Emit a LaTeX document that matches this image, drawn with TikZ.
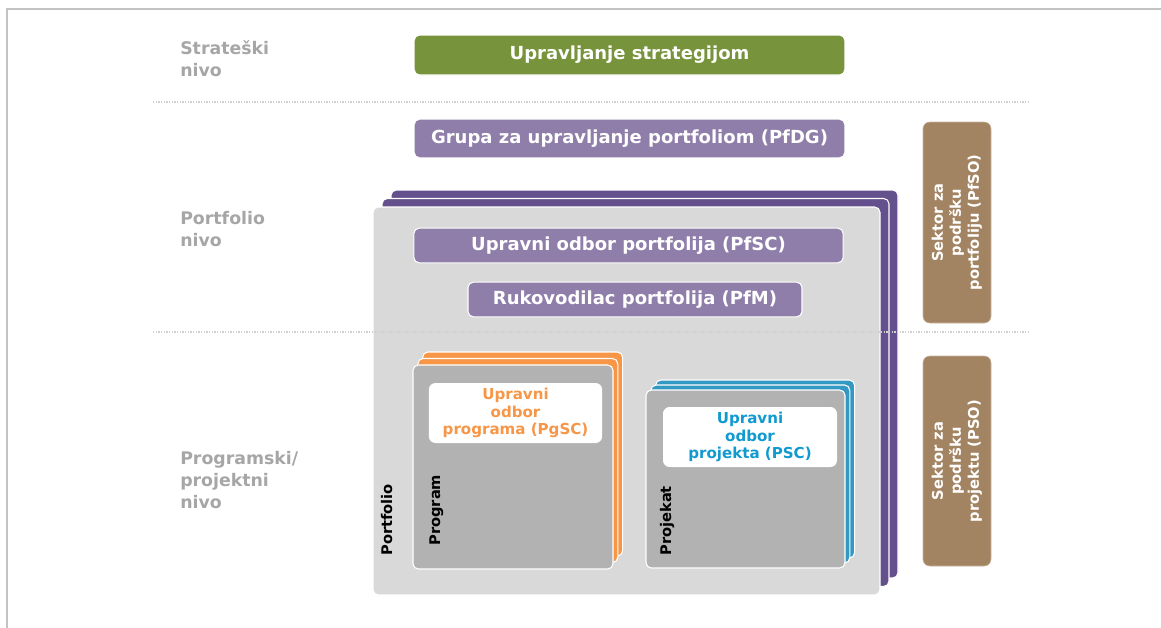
\documentclass[tikz,border=0pt]{standalone}
\usepackage{fontspec}
\setmainfont{DejaVu Sans}
\usetikzlibrary{positioning}
\definecolor{zelena}{HTML}{77933C}
\definecolor{svijetloljub}{HTML}{8F7EA9}
\definecolor{tamnoljub}{HTML}{64508C}
\definecolor{svijetlosiva}{HTML}{D9D9D9}
\definecolor{tamnosiva}{HTML}{B2B2B2}
\definecolor{narandzasta}{HTML}{F79646}
\definecolor{plava}{HTML}{3399C2}
\definecolor{plavatekst}{HTML}{109AD0}
\definecolor{smeda}{HTML}{A38462}
\definecolor{sivotekst}{HTML}{A6A6A6}
\definecolor{okvir}{HTML}{C3C3C3}

\begin{document}
\begin{tikzpicture}[x=0.75pt,y=-0.75pt]
 \tikzset{nivo node/.style={anchor=west, align=left, inner sep=0pt,
 		text=sivotekst, font=\fontsize{13}{16.5}\selectfont\bfseries}, }
 \tikzset{glavni node/.style={rectangle, draw=white, line width=0.8pt,
 		text=white, text centered, rounded corners=4pt,
 		font=\fontsize{13.5}{16}\selectfont\bfseries}, }
 \tikzset{odbor node/.style={rectangle, fill=white, align=center,
 		rounded corners=5pt, inner sep=1pt,
 		font=\fontsize{11.3}{13}\selectfont\bfseries}, }
 \tikzset{sektor node/.style={rectangle, draw=smeda!60, fill=smeda,
 		rotate=90, align=center, text=white, rounded corners=5pt,
 		minimum height=51pt, font=\fontsize{11}{13.5}\selectfont\bfseries}, }
 \tikzset{oznaka node/.style={rotate=90, anchor=base west, inner sep=0pt,
 		font=\fontsize{11}{13}\selectfont\bfseries}, }
 \tikzset{sloj/.style={draw=white, line width=0.8pt, rounded corners=4pt},}
 \tikzset{razdjelnik/.style={draw=black!18, densely dotted, line width=1pt},}
 \useasboundingbox (0,0) rectangle (1161,628);
 \draw[okvir, line width=1.5pt] (7,628) -- (7,9) -- (1161,9);
 %% 
 \node[nivo node] (strateski) at (180,59) {Strateški\\nivo};
 \node[nivo node] (portfolionivo) at (180,229) {Portfolio\\nivo};
 \node[nivo node] (programnivo) at (180,480) {Programski/\\projektni\\nivo};
 %% 
 \node[glavni node, fill=zelena, minimum width=323pt, minimum height=30pt]
 	(strategija) at (629.5,55) {Upravljanje strategijom};
 \node[glavni node, fill=svijetloljub, minimum width=323pt, minimum height=29pt]
 	(pfdg) at (629.5,138.5) {Grupa za upravljanje portfoliom (PfDG)};
 %% 
 \foreach \k/\boja in {2/tamnoljub,1/tamnoljub,0/svijetlosiva}
 \draw[sloj, fill=\boja, shift={({9*\k},{-8.5*\k})}] (373,207) rectangle (880,595);
 \draw[razdjelnik] (153,102) -- (1030,102);
 \draw[razdjelnik] (153,332) -- (1030,332);
 \node[glavni node, fill=svijetloljub, minimum width=322pt, minimum height=26pt]
 	(pfsc) at (628.5,245.5) {Upravni odbor portfolija (PfSC)};
 \node[glavni node, fill=svijetloljub, minimum width=250.5pt, minimum height=26pt]
 	(pfm) at (635,299.5) {Rukovodilac portfolija (PfM)};
 %% 
 \foreach \k/\boja in {2/narandzasta,1/narandzasta,0/tamnosiva}
 \draw[sloj, fill=\boja, shift={({4.8*\k},{-6.5*\k})}] (413,365) rectangle (613,569);
 \foreach \k/\boja in {2/plava,1/plava,0/tamnosiva}
 \draw[sloj, fill=\boja, shift={({4.8*\k},{-5*\k})}] (646,390) rectangle (845,568);
 \node[odbor node, text=narandzasta, minimum width=130pt, minimum height=45pt]
 	(pgsc) at (515.5,413) {Upravni\\odbor\\programa (PgSC)};
 \node[odbor node, text=plavatekst, minimum width=130.5pt, minimum height=45pt]
 	(psc) at (750,437) {Upravni\\odbor\\projekta (PSC)};
 \node[oznaka node] (portfolio) at (392,556) {Portfolio};
 \node[oznaka node] (program) at (440,546) {Program};
 \node[oznaka node] (projekat) at (671,556) {Projekat};
 %% 
 \node[sektor node, minimum width=150.75pt] (pfso) at (957,222.5)
 	{Sektor za\\podršku\\portfoliju (PfSO)};
 \node[sektor node, minimum width=157.5pt] (pso) at (957,461)
 	{Sektor za\\podršku\\projektu (PSO)};
 \end{tikzpicture}
\end{document}
